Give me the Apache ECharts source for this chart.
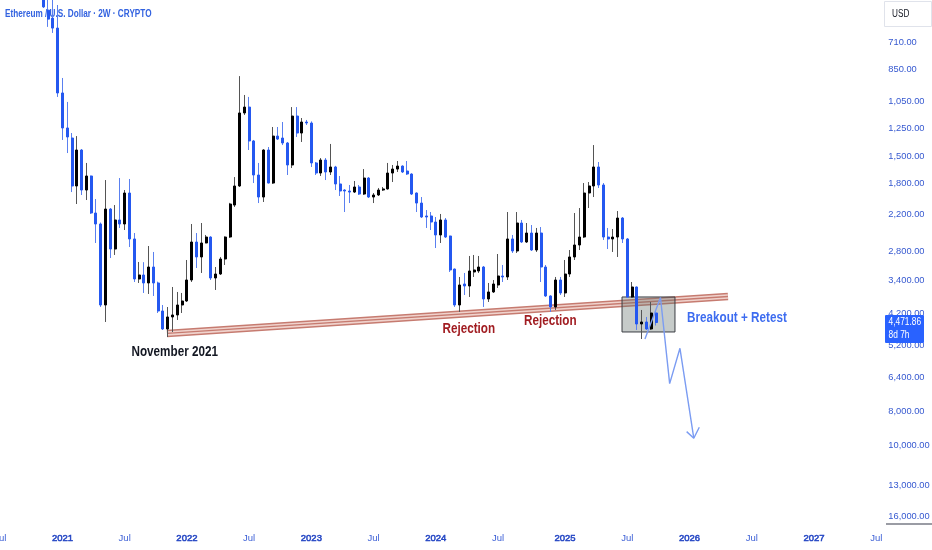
<!DOCTYPE html>
<html>
<head>
<meta charset="utf-8">
<script src="https://cdn.jsdelivr.net/npm/echarts@6/dist/echarts.min.js"></script>
<style>
html,body{margin:0;padding:0;background:#ffffff;overflow:hidden;}
#c{width:932px;height:550px;}
</style>
</head>
<body>
<div id="c"></div>
<script>
// ---- data (2W bars, Ethereum / U.S. Dollar) ----
const barDates = [
'2020-11-09','2020-11-23','2020-12-07','2020-12-21',
'2021-01-04','2021-01-18','2021-02-01','2021-02-15','2021-03-01','2021-03-15','2021-03-29','2021-04-12','2021-04-26','2021-05-10','2021-05-24','2021-06-07','2021-06-21','2021-07-05','2021-07-19','2021-08-02','2021-08-16','2021-08-30','2021-09-13','2021-09-27','2021-10-11','2021-10-25','2021-11-08','2021-11-22','2021-12-06','2021-12-20',
'2022-01-03','2022-01-17','2022-01-31','2022-02-14','2022-02-28','2022-03-14','2022-03-28','2022-04-11','2022-04-25','2022-05-09','2022-05-23','2022-06-06','2022-06-20','2022-07-04','2022-07-18','2022-08-01','2022-08-15','2022-08-29','2022-09-12','2022-09-26','2022-10-10','2022-10-24','2022-11-07','2022-11-21','2022-12-05','2022-12-19',
'2023-01-02','2023-01-16','2023-01-30','2023-02-13','2023-02-27','2023-03-13','2023-03-27','2023-04-10','2023-04-24','2023-05-08','2023-05-22','2023-06-05','2023-06-19','2023-07-03','2023-07-17','2023-07-31','2023-08-14','2023-08-28','2023-09-11','2023-09-25','2023-10-09','2023-10-23','2023-11-06','2023-11-20','2023-12-04','2023-12-18',
'2024-01-01','2024-01-15','2024-01-29','2024-02-12','2024-02-26','2024-03-11','2024-03-25','2024-04-08','2024-04-22','2024-05-06','2024-05-20','2024-06-03','2024-06-17','2024-07-01','2024-07-15','2024-07-29','2024-08-12','2024-08-26','2024-09-09','2024-09-23','2024-10-07','2024-10-21','2024-11-04','2024-11-18','2024-12-02','2024-12-16','2024-12-30',
'2025-01-06','2025-01-20','2025-02-03','2025-02-17','2025-03-03','2025-03-17','2025-03-31','2025-04-14','2025-04-28','2025-05-12','2025-05-26','2025-06-09','2025-06-23','2025-07-07','2025-07-21','2025-08-04','2025-08-18','2025-09-01','2025-09-15','2025-09-29'
];
const opens = [
450,576,607,648,
992,1248,1333,1826,1442,1875,1710,2180,2343,3986,2124,2761,2282,2343,1912,2585,3361,3274,3450,3107,3450,4146,4666,4312,4256,3986,
3883,3383,2637,2909,2654,2552,3339,3253,2948,2552,2069,1826,1131,1088,1359,1699,1963,1442,1791,1316,1333,1377,1591,1154,1290,1200,
1208,1570,1677,1540,1666,1612,1802,1875,1887,1900,1838,1925,1733,1963,1937,1875,1862,1677,1634,1602,1655,1688,1912,2042,2223,2223,
2313,2518,2282,2535,3148,3986,3473,3519,3210,3189,3107,3832,3660,3496,3295,3317,2585,2797,2328,2637,2486,2779,2486,3107,3757,4038,3383,
3684,3253,2909,2689,2552,1912,1826,1612,1814,2552,2585,2552,2253,2585,3782,3542,4515,4456,4666,4201
];
const closes = [
564,611,648,992,
1248,1324,1826,1442,1875,1710,2180,2343,3986,2124,2761,2282,2343,1912,2585,3361,3274,3450,3107,3450,4146,4666,4312,4256,3986,3883,
3383,2637,2909,2654,2552,3339,3253,2948,2552,2055,1826,1131,1088,1359,1699,1963,1442,1791,1316,1342,1377,1591,1154,1290,1200,1208,
1570,1677,1540,1666,1612,1802,1887,1887,1900,1838,1925,1733,1963,1937,1875,1862,1677,1634,1602,1666,1688,1925,2042,2238,2238,2313,
2518,2282,2552,3168,3986,3496,3519,3189,3168,3107,3832,3660,3473,3295,3317,2585,2797,2328,2637,2486,2779,2486,3107,3757,4038,3383,3684,
3253,2909,2689,2552,1912,1826,1612,1814,2552,2585,2552,2253,2585,3782,3542,4515,4456,4666,4201,4471.86
];
const lows = [
440,490,535,557,
899,1052,1290,1316,1433,1570,1705,1989,2320,1756,2110,2069,1733,1875,1744,2486,3006,3010,2707,2815,3420,3986,4039,3542,3660,3684,
2967,2343,2486,2328,2518,2540,3107,2909,2540,2040,1722,888,1005,1018,1350,1570,1435,1414,1240,1240,1200,1368,1088,1088,1169,1184,
1195,1560,1520,1520,1386,1600,1710,1865,1814,1767,1814,1634,1722,1912,1850,1838,1570,1591,1550,1595,1550,1680,1905,1963,2138,2166,
2238,2194,2253,2530,3140,3317,3231,2890,2871,2890,3086,3450,3383,2853,3066,2166,2518,2166,2282,2328,2359,2405,2390,3066,3740,3317,3317,
2967,2779,2180,2110,1791,1779,1396,1560,1791,2405,2421,2152,2238,2569,3428,3530,4119,4312,3908,4140
];
const highs = [
568,643,669,1018,
1350,1471,1900,2055,1937,2002,2194,2654,4038,4456,2929,2871,2405,2437,2725,3428,3450,3684,3708,3757,4201,4696,4917,4758,4398,4201,
3908,3428,3127,3231,2660,3383,3612,3274,3066,2569,2096,1838,1146,1442,1791,2042,2028,1795,1802,1350,1396,1699,1623,1324,1368,1224,
1612,1699,1710,1756,1699,1875,1950,2166,2042,1912,1937,1937,1976,2042,1950,1887,1870,1779,1666,1677,1699,1937,2166,2253,2405,2437,
2743,2654,2569,3210,4038,4173,3733,3782,3317,3231,4038,3908,3684,3565,3428,3383,2834,2834,2654,2654,2797,2815,3428,3782,4173,4119,3733,
3782,3317,2967,2779,2569,2110,1963,1850,2602,2761,2815,2909,2654,3807,3807,4696,4982,4696,4696,4560
];
const firstSlot = 1;               // bar-slot number of the first bar
const slotMin = -8.05, slotMax = 175.96;  // visible bar-slot range
const xTickSlots  = [-8, 5, 18, 31, 44, 57, 70, 83, 96, 110, 123, 136, 149, 162, 175];
const xTickLabels = ['Jul','2021','Jul','2022','Jul','2023','Jul','2024','Jul','2025','Jul','2026','Jul','2027','Jul'];
const yTickValues = [710, 850, 1050, 1250, 1500, 1800, 2200, 2800, 3400, 4200, 5200, 6400, 8000, 10000, 13000, 16000];
const yMin = 539, yMax = 16660;
const lastPrice = 4471.86;
const timeLeft = '8d 7h';
// drawings (bar-slot, price)
const trendLine = [[26.84, 4805], [144.03, 3770]];
const retestBox = [121.9, 132.96, 3782, 4758];
const projection = [[126.69, 4982], [129.93, 3794], [131.85, 6678], [134.0, 5295], [136.89, 9553]];
const arrowHead = [[135.4, 9148], [136.89, 9553], [138.04, 8889]];

const FONT = "'Liberation Sans', Arial, sans-serif";
const BLUE = '#2458f0';

const fullData = barDates.map((d, i) => [firstSlot + i, opens[i], closes[i], lows[i], highs[i]]);
const bodyData = barDates.map((d, i) => [firstSlot + i, opens[i], closes[i], Math.min(opens[i], closes[i]), Math.max(opens[i], closes[i])]);

const chart = echarts.init(document.getElementById('c'));
const bandBase = {type: 'line', data: trendLine, symbol: 'none', silent: true, animation: false, z: 1};

chart.setOption({
  animation: false,
  backgroundColor: '#ffffff',
  grid: {left: 0, top: 0, width: 880.8, height: 523, containLabel: false, outerBoundsMode: 'none'},
  xAxis: {
    type: 'value', min: slotMin, max: slotMax,
    axisLine: {show: false}, axisTick: {show: false}, splitLine: {show: false},
    axisLabel: {
      customValues: xTickSlots, margin: 10,
      formatter: function (v) {
        const k = xTickSlots.indexOf(Math.round(v));
        const t = k >= 0 ? xTickLabels[k] : '';
        return t === 'Jul' ? '{m|Jul}' : '{y|' + t + '}';
      },
      rich: {
        y: {fontFamily: FONT, fontSize: 9.5, color: '#2446c4', textBorderColor: '#2446c4', textBorderWidth: 0.5},
        m: {fontFamily: FONT, fontSize: 9.5, color: '#3d60d6'}
      }
    }
  },
  yAxis: {
    type: 'log', logBase: 10, inverse: true, position: 'right', min: yMin, max: yMax,
    axisLine: {show: false}, axisTick: {show: false}, splitLine: {show: false},
    axisLabel: {
      customValues: yTickValues, margin: 7.5, fontFamily: FONT, fontSize: 9.3, color: '#3659d0',
      formatter: function (v) { return Number(v).toLocaleString('en-US', {minimumFractionDigits: 2, maximumFractionDigits: 2}); }
    }
  },
  series: [
    Object.assign({}, bandBase, {lineStyle: {width: 7.5, color: '#c67b70'}}),
    Object.assign({}, bandBase, {lineStyle: {width: 4.6, color: '#f0d3cd'}}),
    Object.assign({}, bandBase, {lineStyle: {width: 1.3, color: '#c67b70'}}),
    {
      type: 'custom', z: 2, silent: true, data: [retestBox], encode: {x: [0, 1], y: [2, 3]},
      renderItem: function (params, api) {
        const a = api.coord([api.value(0), api.value(2)]);
        const b = api.coord([api.value(1), api.value(3)]);
        return {type: 'rect', shape: {x: a[0], y: a[1], width: b[0] - a[0], height: b[1] - a[1]},
          style: {fill: 'rgba(100,115,108,0.37)', stroke: '#3a3d42', lineWidth: 1}};
      }
    },
    {
      type: 'candlestick', z: 3, silent: true, data: fullData, encode: {x: 0, y: [1, 2, 3, 4]},
      barWidth: 1,
      itemStyle: {color: '#5a80f0', color0: '#555555', borderColor: '#5a80f0', borderColor0: '#555555', borderWidth: 1}
    },
    {
      type: 'candlestick', z: 4, silent: true, data: bodyData, encode: {x: 0, y: [1, 2, 3, 4]},
      barWidth: 2.5,
      itemStyle: {color: BLUE, color0: '#000000', borderColor: BLUE, borderColor0: '#000000', borderWidth: 1}
    },
    {type: 'line', z: 5, data: projection, symbol: 'none', silent: true, lineStyle: {width: 1.4, color: '#7b9cf2'}},
    {type: 'line', z: 5, data: arrowHead, symbol: 'none', silent: true, lineStyle: {width: 1.4, color: '#7b9cf2'}}
  ]
});

const py = chart.convertToPixel({yAxisIndex: 0}, lastPrice);
function txt(text, x, y, color, size, sx, bold, z) {
  return {type: 'text', z: z, x: x, y: y, scaleX: sx, originX: 0, originY: 0,
    style: {text: text, fill: color, fontFamily: FONT, fontSize: size, fontWeight: bold ? 'bold' : 'normal', align: 'left', verticalAlign: 'middle'}};
}

chart.setOption({
  graphic: {elements: [
    txt('Ethereum / U.S. Dollar · 2W · CRYPTO', 5, 14.5, '#3262e0', 10.5, 0.78, true, 0),
    txt('November 2021', 131.5, 352, '#131722', 15, 0.78, true, 10),
    txt('Rejection', 442.5, 329, '#a11d22', 15, 0.78, true, 10),
    txt('Rejection', 524, 321, '#a11d22', 15, 0.78, true, 10),
    txt('Breakout + Retest', 687, 318, '#3d6cf0', 15, 0.78, true, 10),
    {type: 'rect', z: 10, shape: {x: 884.5, y: 1.5, width: 47, height: 25}, style: {fill: '#ffffff', stroke: '#e0e3eb', lineWidth: 1}},
    txt('USD', 892, 14.5, '#131722', 10, 0.82, false, 11),
    {type: 'line', z: 10, shape: {x1: 886, y1: 524, x2: 932, y2: 524}, style: {stroke: '#787b86', lineWidth: 1.5}},
    {type: 'rect', z: 100, shape: {x: 885, y: py - 7.5, width: 39, height: 28, r: 1}, style: {fill: '#2962ff'}},
    txt(lastPrice.toLocaleString('en-US', {minimumFractionDigits: 2}), 888.5, py, '#ffffff', 10.5, 0.8, false, 101),
    txt(timeLeft, 888.5, py + 12.5, '#ffffff', 10.5, 0.8, false, 101)
  ]}
});
</script>
</body>
</html>
